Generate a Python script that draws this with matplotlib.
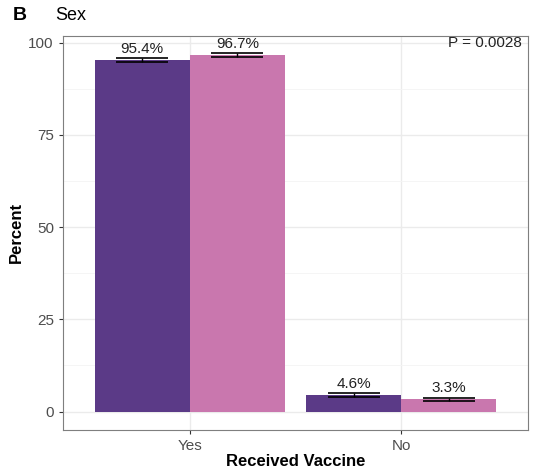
import matplotlib
matplotlib.use("Agg")
import matplotlib.pyplot as plt
import numpy as np

plt.rcParams['font.family'] = ['Liberation Sans', 'DejaVu Sans']

categories = ["Yes", "No"]
group_a = [95.4, 4.6]   # purple
group_b = [96.7, 3.3]   # pink
err_a = [0.5, 0.55]
err_b = [0.45, 0.5]
labels_a = ["95.4%", "4.6%"]
labels_b = ["96.7%", "3.3%"]

col_a = "#5B3A87"
col_b = "#C977AE"

fig = plt.figure(figsize=(5.33, 4.71), dpi=100)
ax = fig.add_axes([0.118, 0.087, 0.873, 0.837])

x = np.arange(1, len(categories) + 1)
w = 0.45
ax.bar(x - w/2, group_a, width=w, color=col_a, zorder=2)
ax.bar(x + w/2, group_b, width=w, color=col_b, zorder=2)
ax.errorbar(x - w/2, group_a, yerr=err_a, fmt='none', ecolor='black', capsize=19, elinewidth=1, capthick=1.2, zorder=3)
ax.errorbar(x + w/2, group_b, yerr=err_b, fmt='none', ecolor='black', capsize=19, elinewidth=1, capthick=1.2, zorder=3)
for xi, v, e, t in zip(x - w/2, group_a, err_a, labels_a):
    ax.annotate(t, (xi, v + e), xytext=(0, 1.5), textcoords='offset points', ha='center', va='bottom', fontsize=11, color='#222222')
for xi, v, e, t in zip(x + w/2, group_b, err_b, labels_b):
    ax.annotate(t, (xi, v + e), xytext=(0, 1.5), textcoords='offset points', ha='center', va='bottom', fontsize=11, color='#222222')

ax.set_xlim(0.4, 2.6)
ax.set_ylim(-5, 101.9)
ax.set_xticks(x)
ax.set_xticklabels(categories)
ax.set_yticks([0, 25, 50, 75, 100])
ax.set_yticks([12.5, 37.5, 62.5, 87.5], minor=True)
ax.grid(True, which='major', color='#EBEBEB', linewidth=1, zorder=0)
ax.grid(True, which='minor', axis='y', color='#F4F4F4', linewidth=0.6, zorder=0)
ax.set_axisbelow(True)
ax.tick_params(axis='both', which='major', colors='#333333', labelcolor='#4D4D4D', labelsize=11, length=3)
ax.tick_params(axis='both', which='minor', length=0)
for s in ax.spines.values():
    s.set_color('#7F7F7F')
    s.set_linewidth(0.8)

ax.set_xlabel("Received Vaccine", fontsize=12, fontweight='bold', labelpad=1)
ax.set_ylabel("Percent", fontsize=12, fontweight='bold', labelpad=3)

ax.text(2.57, 100, "P = 0.0028", ha='right', va='center', fontsize=11, color='#222222')
fig.text(13/533, 1 - 16/471, "B", fontsize=14, fontweight='bold', va='center', ha='left')
fig.text(55/533, 1 - 16/471, "Sex", fontsize=13, va='center', ha='left')

fig.savefig("out.png", dpi=100)
